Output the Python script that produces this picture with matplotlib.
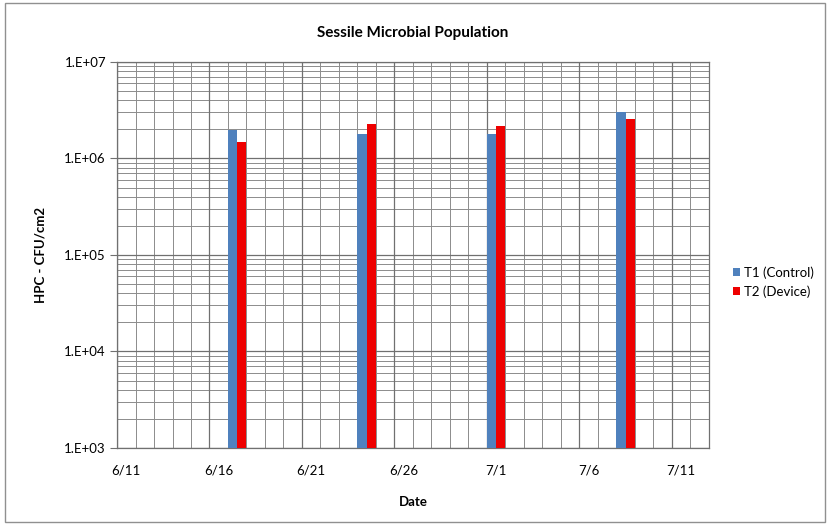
import matplotlib.pyplot as plt
import matplotlib.dates as mdates
import numpy as np
import pandas as pd
from matplotlib.ticker import FixedLocator, LogLocator, NullFormatter
from matplotlib.patches import Rectangle

plt.rcParams['font.family'] = ['Lato', 'DejaVu Sans']

# data
dates = ['2008-06-17', '2008-06-24', '2008-07-01', '2008-07-08']
t1_control = [1.95e6, 1.78e6, 1.78e6, 3.0e6]
t2_device = [1.47e6, 2.3e6, 2.15e6, 2.55e6]

tick_dates = ['2008-06-11', '2008-06-16', '2008-06-21', '2008-06-26',
              '2008-07-01', '2008-07-06', '2008-07-11']
tick_labels = ['6/11', '6/16', '6/21', '6/26', '7/1', '7/6', '7/11']
x_start, x_end = '2008-06-11', '2008-07-13'

ytick_vals = [1e3, 1e4, 1e5, 1e6, 1e7]
ytick_labels = ['1.E+03', '1.E+04', '1.E+05', '1.E+06', '1.E+07']

blue = '#4F81BD'
red = '#EE0000'
grid_col = '#8C8C8C'

x = mdates.date2num(pd.to_datetime(dates))
x0 = mdates.date2num(pd.Timestamp(x_start))
x1 = mdates.date2num(pd.Timestamp(x_end))
xt = mdates.date2num(pd.to_datetime(tick_dates))

fig = plt.figure(figsize=(8.3, 5.25), dpi=100)
ax = fig.add_axes([0.141, 0.1467, 0.713, 0.7353])

# day grid (each date is one slot)
ax.set_xlim(x0, x1)
ax.xaxis.set_minor_locator(FixedLocator(np.arange(x0, x1 + 1)))
ax.grid(True, which='minor', axis='x', color=grid_col, lw=0.7)
for b in xt:
    ax.axvline(b, color='#707070', lw=0.9, zorder=1)

ax.set_yscale('log')
ax.set_ylim(1e3, 1e7)
ax.yaxis.set_major_locator(FixedLocator(ytick_vals))
ax.yaxis.set_minor_locator(LogLocator(base=10, subs=np.arange(2, 10)))
ax.yaxis.set_minor_formatter(NullFormatter())
ax.set_yticklabels(ytick_labels)
ax.grid(True, which='major', axis='y', color='#707070', lw=0.9)
ax.grid(True, which='minor', axis='y', color=grid_col, lw=0.7)
ax.set_axisbelow(True)

ax.bar(x, t1_control, width=0.5, bottom=1e3, align='edge', color=blue,
       label='T1 (Control)', zorder=3)
ax.bar(x + 0.5, t2_device, width=0.5, bottom=1e3, align='edge', color=red,
       label='T2 (Device)', zorder=3)

ax.set_xticks(xt + 0.5)
ax.set_xticklabels(tick_labels)
ax.tick_params(axis='x', which='both', length=0, pad=12, labelsize=9.5)
ax.tick_params(axis='y', which='major', length=5, direction='out',
               color='#707070', labelsize=9.5, pad=3)
ax.tick_params(axis='y', which='minor', length=0)

for s in ax.spines.values():
    s.set_color('#707070')
    s.set_linewidth(0.9)

ax.set_title('Sessile Microbial Population', fontsize=11, fontweight='bold', pad=18)
ax.set_xlabel('Date', fontsize=9.5, fontweight='bold', labelpad=14)
ax.set_ylabel('HPC - CFU/cm2', fontsize=9.5, fontweight='bold', labelpad=13)

ax.legend(loc='center left', bbox_to_anchor=(1.02, 0.43), frameon=False,
          fontsize=9.5, handlelength=0.6, handleheight=0.6, handletextpad=0.3,
          labelspacing=0.5)

fig.patches.append(Rectangle((0.006, 0.006), 0.988, 0.988, transform=fig.transFigure,
                             fill=False, edgecolor='#909090', lw=1.0))

fig.savefig('out.png', dpi=100)
